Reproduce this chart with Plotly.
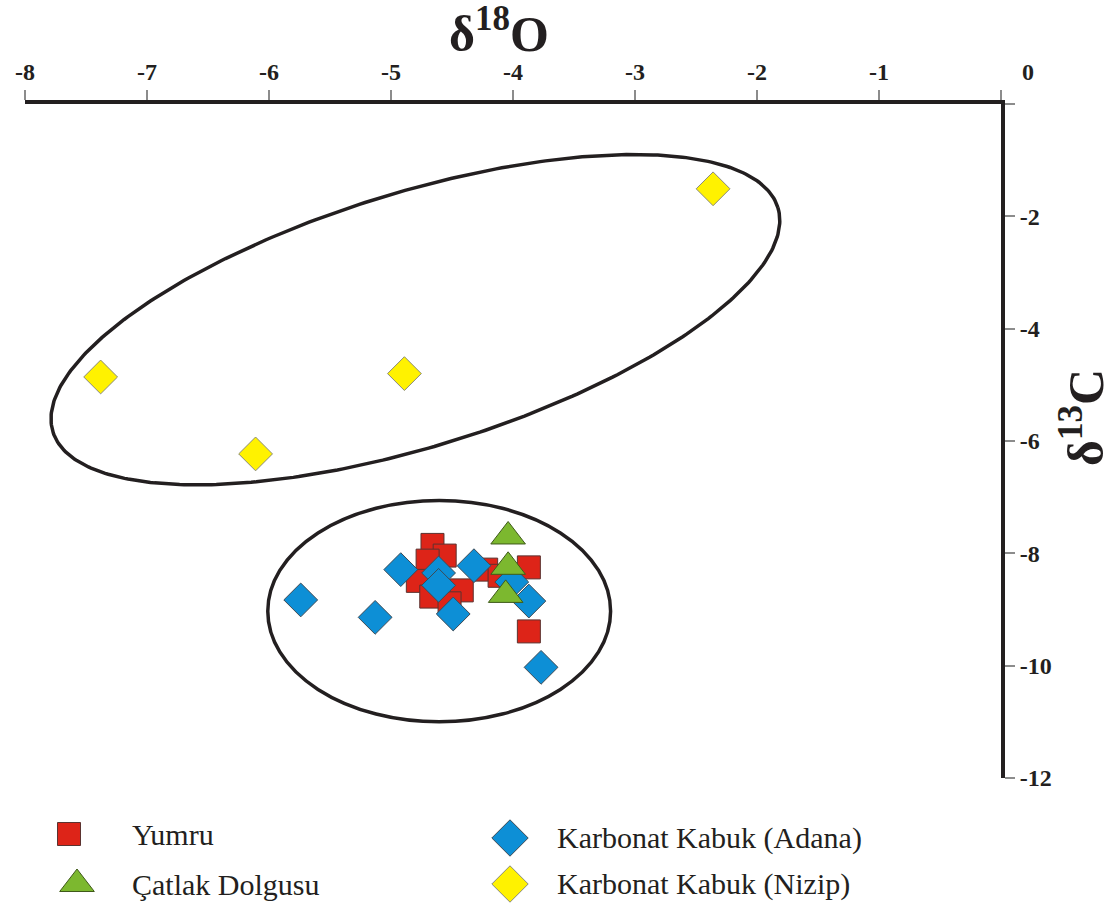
import numpy as np
import plotly.graph_objects as go

# ---- isotope data (‰) ----
yumru_d18o = [-4.66, -4.56, -4.70, -4.78, -4.42, -4.67, -4.52, -4.22, -4.11, -3.87, -3.87]
yumru_d13c = [-7.85, -8.04, -8.13, -8.49, -8.66, -8.77, -8.89, -8.29, -8.40, -8.25, -9.39]

adana_d18o = [-5.74, -5.13, -4.92, -4.61, -4.61, -4.32, -4.49, -4.01, -3.87, -3.77]
adana_d13c = [-8.83, -9.14, -8.29, -8.35, -8.57, -8.22, -9.08, -8.51, -8.85, -10.03]

catlak_d18o = [-4.04, -4.04, -4.06]
catlak_d13c = [-7.70, -8.24, -8.74]

nizip_d18o = [-2.36, -7.38, -4.89, -6.11]
nizip_d13c = [-1.51, -4.86, -4.80, -6.23]

x_tick_vals = [-8, -7, -6, -5, -4, -3, -2, -1, 0]
x_tick_text = ["-8", "-7", "-6", "-5", "-4", "-3", "-2", "-1", ""]
y_tick_vals = [-12, -10, -8, -6, -4, -2, 0]
y_tick_text = ["-12", "-10", "-8", "-6", "-4", "-2", ""]

# ---- styling ----
RED, GREEN, BLUE, YELLOW = "#dd2418", "#7cb82f", "#0d8fd6", "#fff200"
INK = "#231f20"
SERIF = "Liberation Serif"

W, H = 1114, 907
M_L, M_R, M_T = 25, 113, 104
PLOT_BOTTOM_PX = 778
plot_w = W - M_L - M_R
area_h = H - M_T
main_bottom = (H - PLOT_BOTTOM_PX) / area_h
legend_top = 0.14

x_range = [-8, 0]
y_range = [-12, 0]
px_per_x = plot_w / (x_range[1] - x_range[0])
px_per_y = (PLOT_BOTTOM_PX - M_T) / (y_range[1] - y_range[0])

fig = go.Figure()

# Tilted envelope around the Nizip crusts (semi-axes in screen-equal δ18O units)
nizip_ring = dict(cx=-4.80, cy=-3.84, a=3.11, b=1.04, tilt=17.2)
t = np.linspace(0, 2 * np.pi, 400)
th = np.radians(nizip_ring["tilt"])
u = nizip_ring["a"] * np.cos(t)
v = nizip_ring["b"] * np.sin(t)
ring_x = nizip_ring["cx"] + u * np.cos(th) - v * np.sin(th)
ring_y = nizip_ring["cy"] + (u * np.sin(th) + v * np.cos(th)) * px_per_x / px_per_y
fig.add_trace(go.Scatter(x=ring_x, y=ring_y, mode="lines",
                         line=dict(color=INK, width=3.5),
                         hoverinfo="skip", showlegend=False))

# Envelope around the Adana cluster
fig.add_shape(type="circle", xref="x", yref="y",
              x0=-6.01, x1=-3.20, y0=-7.06, y1=-11.0,
              line=dict(color=INK, width=3.5), layer="below")

marker_specs = {
    "Yumru": dict(symbol="square", size=23, color=RED, line=dict(color="#5b3330", width=1)),
    "Çatlak Dolgusu": dict(symbol="triangle-up", size=30, color=GREEN, line=dict(color="#3f5a1a", width=1)),
    "Karbonat Kabuk (Adana)": dict(symbol="diamond", size=26, color=BLUE, line=dict(color="#3d4a55", width=1)),
    "Karbonat Kabuk (Nizip)": dict(symbol="diamond", size=26, color=YELLOW, line=dict(color="#8a8a7a", width=1)),
}

for name, xs, ys in [
    ("Yumru", yumru_d18o, yumru_d13c),
    ("Karbonat Kabuk (Adana)", adana_d18o, adana_d13c),
    ("Çatlak Dolgusu", catlak_d18o, catlak_d13c),
    ("Karbonat Kabuk (Nizip)", nizip_d18o, nizip_d13c),
]:
    fig.add_trace(go.Scatter(x=xs, y=ys, mode="markers", name=name,
                             marker=marker_specs[name], showlegend=False,
                             xaxis="x", yaxis="y"))

# ---- key below the plot, drawn on its own pixel-scaled axes ----
key_layout = [
    ("Yumru", 69, 834, 130, 23),
    ("Çatlak Dolgusu", 77, 884, 130, 30),
    ("Karbonat Kabuk (Adana)", 510, 838, 555, 28),
    ("Karbonat Kabuk (Nizip)", 510, 884, 555, 28),
]
for name, mx, my, tx, msize in key_layout:
    spec = dict(marker_specs[name], size=msize)
    fig.add_trace(go.Scatter(x=[mx], y=[my], mode="markers", marker=spec,
                             showlegend=False, hoverinfo="skip",
                             xaxis="x2", yaxis="y2"))
    fig.add_annotation(x=tx, y=my, xref="x2", yref="y2", text=name,
                       showarrow=False, xanchor="left", yanchor="middle",
                       font=dict(family=SERIF, size=30, color=INK))

axis_common = dict(showgrid=False, zeroline=False, showline=True, automargin=False,
                   linecolor=INK, linewidth=4, ticks="outside", ticklen=10,
                   tickwidth=1.5, tickcolor="#8c8c8c",
                   tickfont=dict(family=SERIF, size=24, color=INK, weight="bold"))

fig.update_layout(
    width=W, height=H,
    margin=dict(l=M_L, r=M_R, t=M_T, b=0, pad=0, autoexpand=False),
    paper_bgcolor="white", plot_bgcolor="white",
    xaxis=dict(range=x_range, side="top", anchor="y",
               tickmode="array", tickvals=x_tick_vals, ticktext=x_tick_text,
               **axis_common),
    yaxis=dict(range=y_range, side="right", anchor="x", domain=[main_bottom, 1],
               tickmode="array", tickvals=y_tick_vals, ticktext=y_tick_text,
               **axis_common),
    xaxis2=dict(range=[M_L, W - M_R], domain=[0, 1], anchor="y2", visible=False,
                automargin=False),
    yaxis2=dict(range=[H, H - legend_top * area_h], domain=[0, legend_top],
                anchor="x2", visible=False, automargin=False),
    showlegend=False,
)

# Axis titles and the offset zero label
fig.add_annotation(x=(499 - M_L) / plot_w, y=(H - 30) / area_h, xref="paper", yref="paper",
                   xanchor="center", yanchor="middle",
                   text="<b>δ<sup>18</sup>O</b>", showarrow=False,
                   font=dict(family=SERIF, size=50, color=INK))
fig.add_annotation(x=(1082 - M_L) / plot_w, y=(H - 418) / area_h, xref="paper", yref="paper",
                   xanchor="center", yanchor="middle",
                   text="<b>δ<sup>13</sup>C</b>", showarrow=False, textangle=-90,
                   font=dict(family=SERIF, size=50, color=INK))
fig.add_annotation(x=0, y=(H - 72) / area_h, xref="x", yref="paper", xshift=27,
                   xanchor="center", yanchor="middle",
                   text="<b>0</b>", showarrow=False,
                   font=dict(family=SERIF, size=24, color=INK))

fig.write_html("out.html")
